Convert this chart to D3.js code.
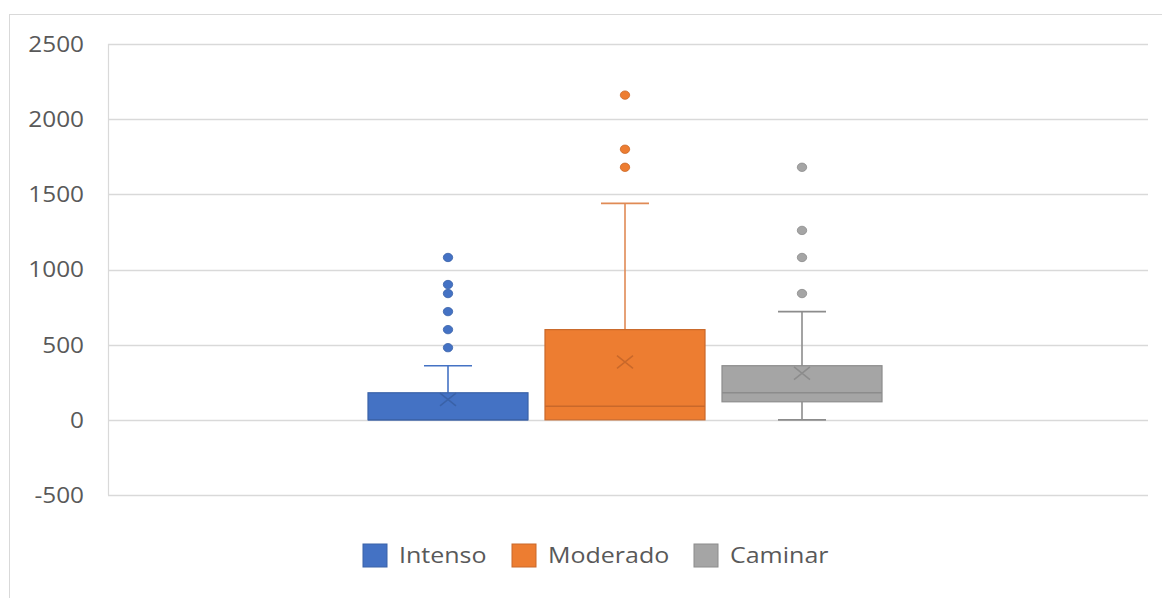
<!DOCTYPE html>
<html>
<head>
<meta charset="utf-8">
<script src="https://cdn.jsdelivr.net/npm/d3@7"></script>
<style>
  html, body { margin: 0; padding: 0; background: #fff; }
  svg { display: block; font-family: "Open Sans", "Noto Sans", sans-serif; }
</style>
</head>
<body>
<svg id="chart" width="1162" height="598"></svg>
<script>
// Series and their five-number summaries (minutes)
const series = ["Intenso", "Moderado", "Caminar"];
const fillColors = ["#4472C4", "#ED7D31", "#A5A5A5"];
const edgeColors = ["#3A62A8", "#C9682A", "#8C8C8C"];
const whiskerLow = [0, 0, 0];
const q1 = [0, 0, 120];
const median = [0, 90, 180];
const q3 = [180, 600, 360];
const whiskerHigh = [360, 1440, 720];
const means = [135, 385, 310];
const outliers = [
  [480, 600, 720, 840, 900, 1080],
  [1680, 1800, 2160],
  [840, 1080, 1260, 1680]
];
const yTicks = [-500, 0, 500, 1000, 1500, 2000, 2500];

const svg = d3.select("#chart");
const tickStretch = "scale(1.16,1)";
const legendStretch = "scale(1.19,1)";

// Chart frame
svg.append("rect")
  .attr("x", 9.5).attr("y", 14.5)
  .attr("width", 1170).attr("height", 600)
  .attr("fill", "none").attr("stroke", "#d9d9d9").attr("stroke-width", 1);

const plotLeft = 108, plotRight = 1148;
const y = d3.scaleLinear().domain([-500, 2500]).range([495, 44]);
const x = d3.scaleBand().domain(series)
  .range([359.5, 890.5]).paddingInner(0.096).paddingOuter(0.048);

// Gridlines
svg.append("g").selectAll("line").data(yTicks).join("line")
  .attr("x1", plotLeft).attr("x2", plotRight)
  .attr("y1", d => Math.round(y(d)) + 0.5).attr("y2", d => Math.round(y(d)) + 0.5)
  .attr("stroke", "#d9d9d9").attr("stroke-width", 1.3);

// Left axis line
svg.append("line")
  .attr("x1", plotLeft + 0.5).attr("x2", plotLeft + 0.5)
  .attr("y1", y(2500)).attr("y2", y(-500))
  .attr("stroke", "#d9d9d9").attr("stroke-width", 1.2);

// Y axis tick labels
const yAxis = d3.axisLeft(y).tickValues(yTicks).tickSize(0).tickPadding(0)
  .tickFormat(d => String(d));
const gy = svg.append("g").attr("transform", `translate(84,0)`).call(yAxis);
gy.select(".domain").remove();
gy.selectAll("text")
  .attr("x", 0)
  .attr("transform", tickStretch)
  .attr("fill", "#595959")
  .style("font-size", "21px")
  .style("font-family", "'Open Sans', 'Noto Sans', sans-serif")
  .attr("dy", "0.35em");

// Boxes
const bw = x.bandwidth();
const capW = bw * 0.3;
series.forEach((s, i) => {
  const g = svg.append("g");
  const cx = x(s) + bw / 2;
  const fill = fillColors[i], edge = edgeColors[i];
  const whiskColor = i === 2 ? "#8C8C8C" : (i === 1 ? "#E08A55" : "#4472C4");

  // upper whisker
  if (whiskerHigh[i] > q3[i]) {
    g.append("line").attr("x1", cx).attr("x2", cx)
      .attr("y1", y(q3[i])).attr("y2", y(whiskerHigh[i]))
      .attr("stroke", whiskColor).attr("stroke-width", 1.6);
    g.append("line").attr("x1", cx - capW / 2).attr("x2", cx + capW / 2)
      .attr("y1", y(whiskerHigh[i])).attr("y2", y(whiskerHigh[i]))
      .attr("stroke", whiskColor).attr("stroke-width", 1.6);
  }
  // lower whisker
  if (whiskerLow[i] < q1[i]) {
    g.append("line").attr("x1", cx).attr("x2", cx)
      .attr("y1", y(q1[i])).attr("y2", y(whiskerLow[i]))
      .attr("stroke", whiskColor).attr("stroke-width", 1.6);
    g.append("line").attr("x1", cx - capW / 2).attr("x2", cx + capW / 2)
      .attr("y1", y(whiskerLow[i])).attr("y2", y(whiskerLow[i]))
      .attr("stroke", whiskColor).attr("stroke-width", 1.6);
  }
  // box
  g.append("rect")
    .attr("x", x(s)).attr("y", y(q3[i]))
    .attr("width", bw).attr("height", y(q1[i]) - y(q3[i]))
    .attr("fill", fill).attr("stroke", edge).attr("stroke-width", 1.2);
  // median
  g.append("line").attr("x1", x(s)).attr("x2", x(s) + bw)
    .attr("y1", y(median[i])).attr("y2", y(median[i]))
    .attr("stroke", edge).attr("stroke-width", 1.4);
  // mean marker
  const m = 8, my = y(means[i]);
  g.append("path")
    .attr("d", `M${cx - m},${my - m * 0.8}L${cx + m},${my + m * 0.8}M${cx - m},${my + m * 0.8}L${cx + m},${my - m * 0.8}`)
    .attr("stroke", edge).attr("stroke-width", 1.5).attr("fill", "none");
  // outliers
  g.selectAll("ellipse").data(outliers[i]).join("ellipse")
    .attr("cx", cx).attr("cy", d => y(d))
    .attr("rx", 4.7).attr("ry", 4.2)
    .attr("fill", fill).attr("stroke", edge).attr("stroke-width", 0.8);
});

// Legend
const legendX = [363, 512, 694];
const legend = svg.append("g");
series.forEach((s, i) => {
  legend.append("rect")
    .attr("x", legendX[i]).attr("y", 544)
    .attr("width", 24).attr("height", 23)
    .attr("fill", fillColors[i]).attr("stroke", edgeColors[i]).attr("stroke-width", 1);
  legend.append("g")
    .attr("transform", `translate(${legendX[i] + 36},556)`)
    .append("text")
    .attr("transform", legendStretch)
    .attr("dy", "0.35em")
    .attr("fill", "#595959")
    .style("font-size", "21px")
    .text(s);
});
</script>
</body>
</html>
